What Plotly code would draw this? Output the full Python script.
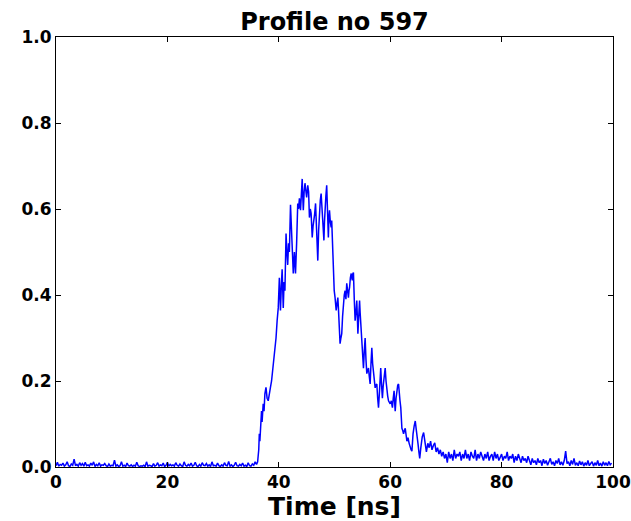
import numpy as np
import plotly.graph_objects as go

# Baseline segment: 0 .. 35.75 ns at 0.25 ns steps
baseline_signal = [
    0.003, 0.011, 0.002, 0.006, 0.004, 0.009, 0.002, 0.005, 0.012, 0.003, 0.001, 0.007,
    0.004, 0.018, 0.003, 0.006, 0.002, 0.010, 0.004, 0.008, 0.002, 0.011, 0.003, 0.005,
    0.002, 0.009, 0.004, 0.012, 0.001, 0.006, 0.003, 0.010, 0.002, 0.005, 0.004, 0.008,
    0.003, 0.001, 0.007, 0.002, 0.004, 0.003, 0.016, 0.002, 0.005, 0.001, 0.003, 0.012,
    0.002, 0.004, 0.001, 0.009, 0.003, 0.002, 0.005, 0.001, 0.004, 0.002, 0.011, 0.003,
    0.001, 0.003, 0.002, 0.004, 0.001, 0.012, 0.002, 0.004, 0.003, 0.001, 0.008, 0.002,
    0.004, 0.010, 0.002, 0.005, 0.003, 0.009, 0.001, 0.004, 0.011, 0.002, 0.006, 0.003,
    0.005, 0.002, 0.010, 0.004, 0.002, 0.007, 0.003, 0.001, 0.012, 0.004, 0.002, 0.006,
    0.003, 0.009, 0.002, 0.004, 0.011, 0.003, 0.001, 0.006, 0.002, 0.010, 0.004, 0.003,
    0.008, 0.002, 0.005, 0.001, 0.012, 0.003, 0.004, 0.002, 0.009, 0.003, 0.001, 0.005,
    0.002, 0.010, 0.004, 0.003, 0.013, 0.002, 0.005, 0.001, 0.004, 0.011, 0.003, 0.002,
    0.006, 0.003, 0.009, 0.002, 0.004, 0.001, 0.010, 0.003, 0.002, 0.007, 0.004, 0.012,
]

# Pulse segment (irregular sampling)
pulse_time = [
    36.0, 36.2, 36.4, 36.5, 36.6, 36.75, 36.9, 37.0, 37.2, 37.35, 37.5, 37.7, 37.9, 38.1,
    38.3, 38.5, 38.7, 38.9, 39.1, 39.3, 39.5, 39.7, 39.9, 40.1, 40.3, 40.45, 40.6, 40.8,
    40.95, 41.1, 41.3, 41.45, 41.6, 41.75, 41.9, 42.1, 42.25, 42.4, 42.6, 42.8, 42.9, 43.0,
    43.2, 43.4, 43.55, 43.7, 43.9, 44.05, 44.2, 44.3, 44.4, 44.55, 44.7, 44.85, 45.0, 45.2,
    45.35, 45.5, 45.65, 45.8, 46.0, 46.15, 46.3, 46.45, 46.6, 46.8, 47.0, 47.15, 47.3, 47.45,
    47.6, 47.7, 47.8, 47.95, 48.1, 48.2, 48.3, 48.45, 48.6, 48.75, 48.9, 49.0, 49.1, 49.25,
    49.4, 49.5, 49.65, 49.8, 49.95, 50.1, 50.2, 50.3, 50.45, 50.6, 50.7, 50.8, 50.9, 51.0,
    51.15, 51.3, 51.45, 51.6, 51.75, 51.9, 52.05, 52.2, 52.35, 52.5, 52.6, 52.7, 52.85, 53.0,
    53.1, 53.2, 53.3, 53.4, 53.55, 53.7, 53.85, 54.0, 54.1, 54.2, 54.35, 54.5, 54.6, 54.7,
    54.85, 55.0, 55.1, 55.2, 55.35, 55.5, 55.65, 55.8, 55.95, 56.1, 56.25, 56.4, 56.55, 56.7,
    56.85, 57.0, 57.15, 57.3, 57.45, 57.6, 57.75, 57.9, 58.05, 58.2, 58.3, 58.45, 58.6, 58.75,
    58.9, 59.0, 59.1, 59.25, 59.4, 59.55, 59.7, 59.85, 60.0, 60.1, 60.2, 60.3, 60.4, 60.55,
    60.7, 60.8, 60.9, 61.05, 61.2, 61.35, 61.5, 61.6, 61.75, 61.9, 62.0, 62.1, 62.25, 62.4,
    62.55, 62.7, 62.85, 63.0, 63.1, 63.2, 63.4, 63.6, 63.75, 63.9, 64.0, 64.1, 64.3, 64.5,
    64.65, 64.8, 64.9, 65.0, 65.15, 65.3,
]
pulse_signal = [
    0.006, 0.012, 0.040, 0.077, 0.060, 0.107, 0.130, 0.105, 0.147, 0.130, 0.170, 0.185, 0.160, 0.154,
    0.175, 0.185, 0.200, 0.224, 0.250, 0.270, 0.300, 0.340, 0.370, 0.440, 0.364, 0.420, 0.460, 0.370,
    0.430, 0.410, 0.543, 0.500, 0.470, 0.520, 0.500, 0.610, 0.550, 0.487, 0.450, 0.500, 0.470, 0.450,
    0.520, 0.613, 0.600, 0.625, 0.597, 0.640, 0.670, 0.630, 0.597, 0.640, 0.660, 0.643, 0.627, 0.655,
    0.640, 0.580, 0.600, 0.590, 0.534, 0.560, 0.573, 0.590, 0.613, 0.550, 0.480, 0.550, 0.604, 0.620,
    0.636, 0.610, 0.604, 0.560, 0.527, 0.570, 0.604, 0.630, 0.655, 0.580, 0.534, 0.580, 0.597, 0.570,
    0.557, 0.573, 0.500, 0.427, 0.410, 0.394, 0.380, 0.364, 0.380, 0.394, 0.370, 0.347, 0.310, 0.287,
    0.300, 0.310, 0.350, 0.387, 0.400, 0.410, 0.390, 0.427, 0.410, 0.394, 0.410, 0.417, 0.440, 0.450,
    0.440, 0.434, 0.450, 0.452, 0.390, 0.340, 0.360, 0.387, 0.350, 0.310, 0.350, 0.387, 0.360, 0.340,
    0.300, 0.277, 0.250, 0.230, 0.270, 0.300, 0.250, 0.217, 0.225, 0.230, 0.210, 0.193, 0.240, 0.277,
    0.240, 0.217, 0.200, 0.184, 0.190, 0.193, 0.160, 0.138, 0.170, 0.200, 0.230, 0.190, 0.160, 0.190,
    0.217, 0.220, 0.230, 0.200, 0.177, 0.165, 0.154, 0.150, 0.147, 0.150, 0.154, 0.145, 0.138, 0.160,
    0.177, 0.150, 0.130, 0.160, 0.184, 0.190, 0.193, 0.170, 0.155, 0.138, 0.110, 0.090, 0.085, 0.077,
    0.085, 0.090, 0.075, 0.060, 0.065, 0.068, 0.055, 0.045, 0.040, 0.037, 0.060, 0.077, 0.095, 0.107,
    0.090, 0.077, 0.065, 0.053, 0.035, 0.020,
]

# Tail segment: 65.5 .. 99.75 ns at 0.25 ns steps
tail_signal = [
    0.045, 0.070, 0.080, 0.050, 0.035, 0.055, 0.045, 0.060, 0.040, 0.050, 0.056, 0.035,
    0.045, 0.030, 0.040, 0.025, 0.035, 0.020, 0.030, 0.010, 0.035, 0.020, 0.030, 0.015,
    0.040, 0.020, 0.030, 0.025, 0.035, 0.015, 0.030, 0.020, 0.040, 0.020, 0.030, 0.015,
    0.035, 0.025, 0.020, 0.040, 0.015, 0.030, 0.020, 0.035, 0.025, 0.015, 0.030, 0.020,
    0.035, 0.015, 0.025, 0.030, 0.015, 0.035, 0.020, 0.030, 0.015, 0.025, 0.030, 0.015,
    0.025, 0.020, 0.035, 0.015, 0.025, 0.020, 0.030, 0.010, 0.025, 0.015, 0.030, 0.020,
    0.010, 0.025, 0.015, 0.020, 0.010, 0.025, 0.015, 0.005, 0.020, 0.010, 0.015, 0.005,
    0.020, 0.010, 0.015, 0.003, 0.018, 0.008, 0.015, 0.004, 0.012, 0.020, 0.006, 0.012,
    0.003, 0.015, 0.008, 0.020, 0.005, 0.012, 0.004, 0.015, 0.037, 0.008, 0.012, 0.003,
    0.015, 0.006, 0.020, 0.004, 0.010, 0.003, 0.014, 0.005, 0.012, 0.002, 0.010, 0.004,
    0.015, 0.003, 0.008, 0.012, 0.002, 0.010, 0.004, 0.015, 0.003, 0.009, 0.002, 0.012,
    0.004, 0.010, 0.003, 0.013, 0.005, 0.009,
]

x_ticks = [0, 20, 40, 60, 80, 100]
y_ticks = [0.0, 0.2, 0.4, 0.6, 0.8, 1.0]
title_text = "Profile no 597"
x_label = "Time [ns]"

baseline_time = 0.25 * np.arange(len(baseline_signal))
tail_time = 65.5 + 0.25 * np.arange(len(tail_signal))

time = np.concatenate([baseline_time, np.array(pulse_time), tail_time])
signal = np.concatenate([np.array(baseline_signal), np.array(pulse_signal), np.array(tail_signal)])

FONT = "DejaVu Sans"

fig = go.Figure()
fig.add_trace(go.Scatter(
    x=time, y=signal, mode="lines",
    line=dict(color="#0000ff", width=1.5),
    showlegend=False, hoverinfo="skip",
))

axis_common = dict(
    showgrid=False, zeroline=False, showline=True, linecolor="black", linewidth=1,
    mirror="allticks", ticks="inside", ticklen=5, tickwidth=1, tickcolor="black",
    automargin=False,
    tickfont=dict(family=FONT, size=17, color="black", weight="bold"),
)

fig.update_layout(
    width=631, height=521,
    margin=dict(l=56, r=18, t=37, b=54),
    paper_bgcolor="white", plot_bgcolor="white",
    title=dict(
        text=title_text, x=0.5, xref="paper", y=1 - 22 / 521, yref="container",
        xanchor="center", yanchor="middle",
        font=dict(family=FONT, size=24, color="black", weight="bold"),
    ),
    xaxis=dict(
        range=[0, 100], tickvals=x_ticks, ticktext=[str(v) for v in x_ticks],
        title=dict(text=x_label, standoff=4,
                   font=dict(family=FONT, size=25, color="black", weight="bold")),
        **axis_common,
    ),
    yaxis=dict(
        range=[0, 1], tickvals=y_ticks, ticktext=[f"{v:.1f}" for v in y_ticks],
        **axis_common,
    ),
)

fig.write_html("out.html")
